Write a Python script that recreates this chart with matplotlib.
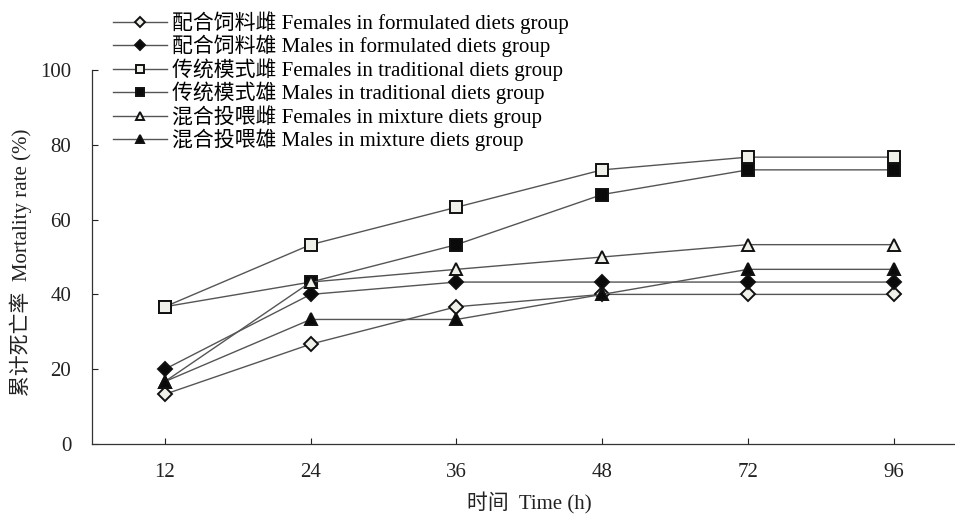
import numpy as np
import matplotlib
matplotlib.use("Agg")
import matplotlib.pyplot as plt

plt.rcParams['font.family'] = ['Liberation Serif', 'Noto Sans CJK SC']

# time points (h), equally spaced categories
hours = ['12', '24', '36', '48', '72', '96']

# cumulative mortality (%)
fem_formulated = [13.3, 26.7, 36.7, 40.0, 40.0, 40.0]
male_formulated = [20.0, 40.0, 43.3, 43.3, 43.3, 43.3]
fem_traditional = [36.7, 53.3, 63.3, 73.3, 76.7, 76.7]
male_traditional = [36.7, 43.3, 53.3, 66.7, 73.3, 73.3]
fem_mixture = [16.7, 43.3, 46.7, 50.0, 53.3, 53.3]
male_mixture = [16.7, 33.3, 33.3, 40.0, 46.7, 46.7]

labels = ['配合饲料雌 Females in formulated diets group',
          '配合饲料雄 Males in formulated diets group',
          '传统模式雌 Females in traditional diets group',
          '传统模式雄 Males in traditional diets group',
          '混合投喂雌 Females in mixture diets group',
          '混合投喂雄 Males in mixture diets group']

series = [fem_formulated, male_formulated, fem_traditional,
          male_traditional, fem_mixture, male_mixture]
markers = ['D', 'D', 's', 's', '^', '^']
faces = ['#f0f0ea', '#0a0a0a', '#f0f0ea', '#0a0a0a', '#f0f0ea', '#0a0a0a']
sizes = [7.5, 7.5, 9, 9, 9, 9]
zorders = [3, 4, 6, 5, 7, 8]  # open squares above filled ones

fig = plt.figure(figsize=(9.55, 5.16), dpi=100)
ax = fig.add_axes([92/955, 1 - 444/516, 1 - 92/955, (444 - 70)/516])

x = np.arange(len(hours))
handles = []
for y, m, fc, ms, z, lab in zip(series, markers, faces, sizes, zorders, labels):
    h, = ax.plot(x, y, color='#555555', lw=1.0, marker=m, ms=ms,
                 mfc=fc, mec='#111111', mew=1.4, zorder=z, label=lab)
    handles.append(h)

ax.set_xlim(-0.5, 5.42)
ax.set_ylim(0, 100)
ax.set_xticks(x)
ax.set_xticklabels(hours)
ax.set_yticks([0, 20, 40, 60, 80, 100])
ax.tick_params(direction='in', length=4, width=0.8, labelsize=15, colors='#222222')
ax.tick_params(axis='x', pad=14)
ax.tick_params(axis='y', pad=15)
for s in ['top', 'right']:
    ax.spines[s].set_visible(False)
for s in ['left', 'bottom']:
    ax.spines[s].set_linewidth(0.9)
    ax.spines[s].set_color('#333333')

ax.set_xlabel('时间  Time (h)', fontsize=15, color='#222222')
ax.xaxis.set_label_coords(0.507, -0.13)
ax.set_ylabel('累计死亡率  Mortality rate (%)', fontsize=15, color='#222222')
ax.yaxis.set_label_coords(-0.069, 0.487)

fig.legend(handles=handles, loc='upper left', bbox_to_anchor=(113/955, 1 - 11/516),
           frameon=False, fontsize=15, handlelength=2.6, handletextpad=0.25,
           labelspacing=0.04, markerscale=0.7, borderaxespad=0, borderpad=0)

fig.savefig('out.png', dpi=100)
